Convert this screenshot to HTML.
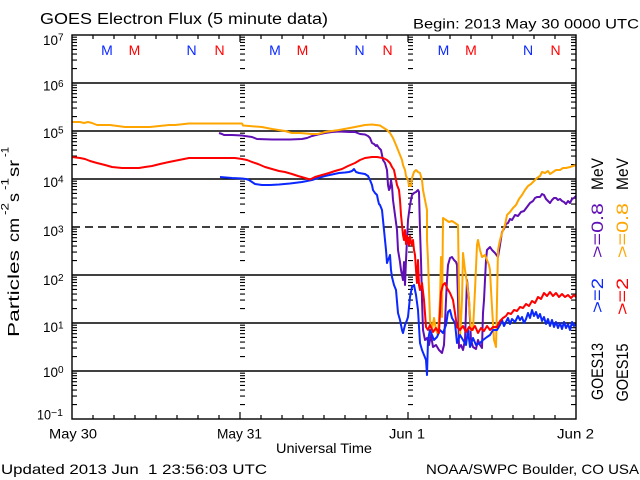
<!DOCTYPE html>
<html>
<head>
<meta charset="utf-8">
<style>
html,body{margin:0;padding:0;background:#fff;}
svg{display:block;}
text{font-family:"Liberation Sans",sans-serif;}
</style>
</head>
<body>
<svg width="640" height="480" viewBox="0 0 640 480" xmlns="http://www.w3.org/2000/svg">
<rect x="0" y="0" width="640" height="480" fill="#fff"/>
<defs>
<path id="dec" d="M0,-14.45h5M0,-22.9h5M0,-28.9h5M0,-33.55h5M0,-37.35h5M0,-40.56h5M0,-43.35h5M0,-45.8h5" stroke="#000" stroke-width="1.1" fill="none"/>
<g id="col">
<use href="#dec" y="83"/><use href="#dec" y="131"/><use href="#dec" y="179"/><use href="#dec" y="227"/>
<use href="#dec" y="275"/><use href="#dec" y="323"/><use href="#dec" y="371"/><use href="#dec" y="419"/>
</g>
</defs>

<!-- titles -->
<text x="40" y="24" font-size="15.5" textLength="288" lengthAdjust="spacingAndGlyphs">GOES Electron Flux (5 minute data)</text>
<text x="413" y="28.5" font-size="14" textLength="226" lengthAdjust="spacingAndGlyphs">Begin: 2013 May 30 0000 UTC</text>

<!-- grid -->
<path d="M72,83H576M72,131H576M72,179H576M72,275H576M72,323H576M72,371H576" stroke="#000" stroke-width="1.4" fill="none"/>
<path d="M72,227H576" stroke="#000" stroke-width="1.4" stroke-dasharray="8,5" fill="none"/>

<!-- minor y ticks -->
<use href="#col" x="72"/>
<use href="#col" x="240"/>
<use href="#col" x="408"/>
<use href="#col" x="571"/>

<!-- x ticks -->
<path d="M93,419v-4M114,419v-4M135,419v-4M156,419v-4M177,419v-4M198,419v-4M219,419v-4M261,419v-4M282,419v-4M303,419v-4M324,419v-4M345,419v-4M366,419v-4M387,419v-4M429,419v-4M450,419v-4M471,419v-4M492,419v-4M513,419v-4M534,419v-4M555,419v-4
M93,35v4M114,35v4M135,35v4M156,35v4M177,35v4M198,35v4M219,35v4M261,35v4M282,35v4M303,35v4M324,35v4M345,35v4M366,35v4M387,35v4M429,35v4M450,35v4M471,35v4M492,35v4M513,35v4M534,35v4M555,35v4
M240,419v-7M408,419v-7M240,35v7M408,35v7" stroke="#000" stroke-width="1.2" fill="none"/>

<!-- M / N markers -->
<g font-size="14" text-anchor="middle">
<text x="107" y="55" fill="#0a28ff">M</text>
<text x="134.5" y="55" fill="#ff0000">M</text>
<text x="191.5" y="55" fill="#0a28ff">N</text>
<text x="219.5" y="55" fill="#ff0000">N</text>
<text x="275" y="55" fill="#0a28ff">M</text>
<text x="302.5" y="55" fill="#ff0000">M</text>
<text x="359.5" y="55" fill="#0a28ff">N</text>
<text x="387.5" y="55" fill="#ff0000">N</text>
<text x="443.5" y="55" fill="#0a28ff">M</text>
<text x="471" y="55" fill="#ff0000">M</text>
<text x="528" y="55" fill="#0a28ff">N</text>
<text x="555.5" y="55" fill="#ff0000">N</text>
</g>

<!-- data series -->
<g fill="none" stroke-width="2" stroke-linejoin="round">
<polyline stroke="#5f0fb4" points="219,133 222,134 224,135 232,135 242,135.5 245,136 252,137 257,139 272,139.5 290,139.5 302,139 307,138 312,136 318,134.5 325,133 332,132 339,131.5 350,132 355,132 360,134 365,134.5 368,136 370,138 372,143 374,144 376,146 377,145 379,148 381,150 383,160 385,163 387,170 388,185 389,190 390,188 391,180 392,186 393,200 395,215 397,230 398,250 400,262 401,270 402,275 403,280 404,262 405,285 406,260 407,240 408,220 410,205 412,195 414,193 416,192 418,190 419,192 420,230 421,260 422,300 423,330 425,340 427,338 429,345 431,335 433,347 436,345 439,350 442,353 444,345 446,300 447,280 448,265 450,258 452,257 454,260 456,262 457,265 458,300 459,348 461,345 463,350 465,340 467,280 469,300 471,340 473,347 476,349 478,340 480,345 482,348 483,313 484,300 486,260 487,250 490,247 492,250 495,253 498,257 500,245 502,232 504,229 506,224 508,223 510,219 512,220 515,215 518,216 521,212 524,211 527,207 530,203 533,201 535,198 537,197 540,197 542,194 544,195 546,199 548,201 550,203 552,200 554,198 556,198 558,200 560,199 562,201 564,202 566,204 568,201 570,203 572,199 574,198 576,196"/>
<polyline stroke="#ffa500" points="72,122 80,122 84,123 88,122 92,123 97,125 110,125 125,127 150,127 169,125 175,125 189,123.5 242,123.5 243,125.5 262,127 272,129 285,131 292,133 300,133 312,134 318,134 325,132 339,130 355,127 365,125 372,124.5 380,125.5 387,130 390,133 393,138 396,145 398,150 400,155 402,160 403,165 405,170 406,176 408,180 409,186 411,186 412,178 414,172 416,170 418,172 420,173 422,180 423,190 425,200 427,210 427,240 428,260 429,290 430,320 432,330 434,318 436,330 438,335 440,300 441,257 442,317 443,218 446,220 449,222 452,221 455,223 458,225 459,290 460,337 461,320 462,300 463,253 465,270 467,283 469,300 471,330 473,330 475,290 477,245 478,240 480,250 482,257 485,255 487,260 489,265 490,270 491,290 492,307 494,340 496,347 497,300 498,250 500,240 502,233 505,225 507,215 510,212 513,208 516,205 519,199 522,195 525,190 528,186 531,184 534,181 537,178 540,176 542,172 545,173 548,171 550,174 553,172 556,170 560,170 563,168 566,168 570,167 573,166 576,165"/>
<polyline stroke="#0a28ff" points="220,177 226,177.5 232,178 242,178.5 246,179 249,180 252,182 255,184 262,185 270,185 279,184.5 290,183.5 302,182 307,181 312,180 318,178 325,176 332,174.5 339,173 345,172.5 349,172 352,171 354,169 356,172 359,173 362,173.5 365,174 368,176 370,180 372,185 373,190 375,193 377,195 378,200 379,204 380,205 382,210 383,220 384,230 385,240 386,250 387,263 388,260 389,258 390,255 391,270 392,277 394,285 396,290 398,313 400,320 402,330 403,333 405,325 407,320 408,317 410,297 412,287 414,285 416,295 418,310 420,343 422,350 424,355 426,360 427,375 428,340 430,330 432,335 434,340 437,337 440,330 443,333 446,325 448,312 450,310 452,318 455,323 457,343 460,335 463,340 466,345 468,330 470,347 473,338 476,345 480,343 483,340 487,337 490,335 493,330 497,330 500,325 502,320 504,326 506,322 508,318 510,324 512,319 515,322 518,316 520,320 522,317 524,323 526,319 528,313 530,318 532,310 534,316 536,312 538,318 540,314 542,321 544,317 546,324 548,319 550,326 552,320 554,327 556,322 558,328 560,323 562,329 564,322 566,328 568,324 570,330 572,322 574,326 576,324"/>
<polyline stroke="#ff0000" points="72,157 80,158 85,159 90,161 97,163 105,165 112,167 122,168 139,168 145,167 152,166 160,164 169,162 179,160 189,158 222,158 235,158 242,159 247,160 252,162 258,164 265,167 272,169 279,171 285,172 292,174 298,176 305,178 310,179.5 315,177 322,175 329,173 335,171 342,169 348,166 355,163 360,160 365,158 372,157 377,157 383,158 387,160 390,163 392,167 394,170 396,180 397,185 399,190 400,200 401,215 402,225 403,235 404,240 405,230 406,244 407,236 408,240 409,245 410,236 411,243 412,245 413,240 414,250 415,255 416,270 417,283 418,260 419,285 420,290 422,283 424,300 426,327 428,330 430,325 433,332 436,328 439,333 441,292 443,285 445,283 447,288 450,293 453,300 455,313 457,327 460,330 463,326 466,332 469,327 472,330 475,326 478,333 481,328 484,331 487,326 490,330 493,327 497,327 500,321 503,318 506,316 508,313 511,314 514,310 517,311 520,307 523,308 526,304 529,306 532,301 535,303 538,297 541,299 544,293 547,296 550,292 553,296 556,293 559,297 562,294 565,297 568,295 571,298 574,295 576,297"/>
</g>

<!-- frame -->
<rect x="72" y="35" width="504" height="384" fill="none" stroke="#000" stroke-width="1.4"/>

<!-- y tick labels -->
<g font-size="14">
<text x="43" y="45" textLength="15" lengthAdjust="spacingAndGlyphs">10</text>
<text x="43" y="90.5" textLength="15" lengthAdjust="spacingAndGlyphs">10</text>
<text x="43" y="138" textLength="15" lengthAdjust="spacingAndGlyphs">10</text>
<text x="43" y="187" textLength="15" lengthAdjust="spacingAndGlyphs">10</text>
<text x="43" y="236" textLength="15" lengthAdjust="spacingAndGlyphs">10</text>
<text x="43" y="285" textLength="15" lengthAdjust="spacingAndGlyphs">10</text>
<text x="43" y="332" textLength="15" lengthAdjust="spacingAndGlyphs">10</text>
<text x="43" y="377" textLength="15" lengthAdjust="spacingAndGlyphs">10</text>
<text x="37" y="419.5" textLength="14" lengthAdjust="spacingAndGlyphs">10</text>
</g>
<g font-size="10">
<text x="58" y="40.5">7</text>
<text x="58" y="87">6</text>
<text x="58" y="133.5">5</text>
<text x="58" y="182.5">4</text>
<text x="58" y="232.5">3</text>
<text x="58" y="281">2</text>
<text x="58" y="328.5">1</text>
<text x="58" y="373">0</text>
<text x="51" y="416" textLength="12" lengthAdjust="spacingAndGlyphs">−1</text>
</g>

<!-- x labels -->
<g font-size="14">
<text x="49" y="438.5" textLength="48" lengthAdjust="spacingAndGlyphs">May 30</text>
<text x="217" y="438.5" textLength="45" lengthAdjust="spacingAndGlyphs">May 31</text>
<text x="389" y="438.5" textLength="36" lengthAdjust="spacingAndGlyphs">Jun 1</text>
<text x="557" y="438.5" textLength="37" lengthAdjust="spacingAndGlyphs">Jun 2</text>
<text x="276" y="453" textLength="96" lengthAdjust="spacingAndGlyphs">Universal Time</text>
<text x="1" y="474" textLength="266" lengthAdjust="spacingAndGlyphs" xml:space="preserve">Updated 2013 Jun  1 23:56:03 UTC</text>
<text x="426" y="474" textLength="213" lengthAdjust="spacingAndGlyphs">NOAA/SWPC Boulder, CO USA</text>
</g>

<!-- y-axis title (rotated) -->
<g font-size="16">
<text transform="translate(19,337) rotate(-90)" textLength="87" lengthAdjust="spacingAndGlyphs">Particles</text>
<text transform="translate(19,242) rotate(-90)" textLength="24" lengthAdjust="spacingAndGlyphs">cm</text>
<text transform="translate(8.5,215) rotate(-90)" font-size="11" textLength="12" lengthAdjust="spacingAndGlyphs">-2</text>
<text transform="translate(19,202) rotate(-90)" textLength="9" lengthAdjust="spacingAndGlyphs">s</text>
<text transform="translate(8.5,190) rotate(-90)" font-size="11" textLength="12" lengthAdjust="spacingAndGlyphs">-1</text>
<text transform="translate(19,177) rotate(-90)" textLength="17" lengthAdjust="spacingAndGlyphs">sr</text>
<text transform="translate(8.5,157) rotate(-90)" font-size="11" textLength="10" lengthAdjust="spacingAndGlyphs">-1</text>
</g>

<!-- right legend (rotated) -->
<g font-size="17">
<text transform="translate(603,400) rotate(-90)" textLength="57" lengthAdjust="spacingAndGlyphs">GOES13</text>
<text transform="translate(603,313) rotate(-90)" textLength="35" lengthAdjust="spacingAndGlyphs" fill="#0a28ff">&gt;=2</text>
<text transform="translate(603,258) rotate(-90)" textLength="55" lengthAdjust="spacingAndGlyphs" fill="#5f0fb4">&gt;=0.8</text>
<text transform="translate(603,190) rotate(-90)" textLength="32" lengthAdjust="spacingAndGlyphs">MeV</text>
<text transform="translate(628,401.5) rotate(-90)" textLength="58" lengthAdjust="spacingAndGlyphs">GOES15</text>
<text transform="translate(628,315) rotate(-90)" textLength="37" lengthAdjust="spacingAndGlyphs" fill="#ff0000">&gt;=2</text>
<text transform="translate(628,258) rotate(-90)" textLength="55" lengthAdjust="spacingAndGlyphs" fill="#ffa500">&gt;=0.8</text>
<text transform="translate(628,190) rotate(-90)" textLength="32" lengthAdjust="spacingAndGlyphs">MeV</text>
</g>
</svg>
</body>
</html>
